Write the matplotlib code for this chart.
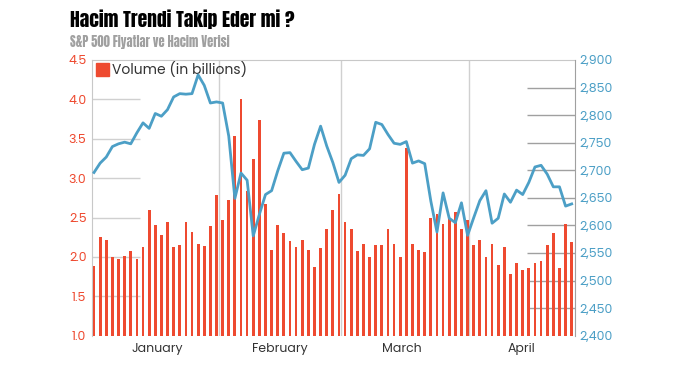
import matplotlib
matplotlib.use("Agg")
import matplotlib.pyplot as plt
from matplotlib.patches import Rectangle
import numpy as np

# daily volume (billions), Jan 2 - Apr 25
volume = [1.89, 2.25, 2.21, 2.00, 1.97, 2.01, 2.08, 1.97, 2.12, 2.59,
          2.41, 2.28, 2.44, 2.12, 2.15, 2.44, 2.32, 2.17, 2.14, 2.39, 2.78,
          2.47, 2.72, 3.54, 4.01, 2.84, 3.24, 3.74, 2.67, 2.09, 2.40,
          2.30, 2.20, 2.13, 2.22, 2.09, 1.87, 2.11, 2.36, 2.59,
          2.80, 2.44, 2.35, 2.08, 2.16, 2.00, 2.15, 2.15, 2.36, 2.17,
          2.00, 3.38, 2.17, 2.09, 2.06, 2.49, 2.54, 2.42, 2.49, 2.57, 2.35,
          2.47, 2.15, 2.22, 2.00, 2.17, 1.90, 2.12, 1.78, 1.92,
          1.83, 1.86, 1.92, 1.95, 2.15, 2.31, 1.86, 2.42, 2.19]

# S&P 500 close
sp500 = [2696, 2713, 2724, 2743, 2748, 2751, 2748, 2768, 2786, 2776,
         2803, 2798, 2810, 2833, 2839, 2838, 2839, 2873, 2854, 2822, 2824,
         2822, 2762, 2649, 2695, 2682, 2581, 2620, 2656, 2663, 2699,
         2731, 2732, 2716, 2701, 2704, 2747, 2780, 2744, 2714,
         2678, 2691, 2721, 2728, 2727, 2739, 2787, 2783, 2765, 2749,
         2747, 2752, 2713, 2717, 2712, 2644, 2588, 2659, 2613, 2605, 2641,
         2582, 2614, 2645, 2663, 2604, 2613, 2657, 2642, 2664,
         2656, 2678, 2706, 2709, 2693, 2670, 2670, 2635, 2639]

months = ["January", "February", "March", "April"]
days_in_month = [21, 19, 21, 18]
month_lines = [20.45, 40.4, 61.3]

red = "#ee4a30"
blue = "#4c9fc6"
plt.rcParams["font.family"] = ["Poppins", "Lato", "DejaVu Sans"]
head_font = ["Anton", "Oswald", "Liberation Sans Narrow", "DejaVu Sans"]

fig = plt.figure(figsize=(6.79, 3.82), dpi=100)
ax = fig.add_axes([92/679, 1 - 335.7/382, 483/679, 275.7/382])

x = np.arange(len(volume))
ax.bar(x, volume, width=0.45, color=red, zorder=3)
ax.set_xlim(-0.33, 78.54)
ax.set_ylim(1.0, 4.5)

for p in month_lines:
    ax.axvline(p, color="#d0d0d0", lw=1, zorder=1)

lticks = np.arange(1.0, 4.51, 0.5)
ax.set_yticks(lticks)
ax.set_yticklabels(["%.1f" % t for t in lticks])
ax.tick_params(axis="y", length=0, colors=red, labelsize=9, pad=4)
ax.hlines(lticks[1:-1], 0, 48/483, transform=ax.get_yaxis_transform(),
          color="#d0d0d0", lw=1, zorder=1)

starts = np.cumsum([0] + days_in_month[:-1])
centers = starts + (np.array(days_in_month) - 1) / 2 + 0.3
ax.set_xticks(centers)
ax.set_xticklabels(months)
ax.tick_params(axis="x", length=0, pad=5, labelcolor="#333333", labelsize=9)

for s in ["left", "top"]:
    ax.spines[s].set_color("#c8c8c8")
ax.spines["bottom"].set_visible(False)
ax.spines["right"].set_visible(False)

ax2 = ax.twinx()
ax2.set_ylim(2400, 2900)
rticks = np.arange(2400, 2901, 50)
ax2.set_yticks(rticks)
ax2.set_yticklabels(["{:,}".format(t) for t in rticks])
ax2.tick_params(axis="y", length=0, colors=blue, labelsize=9, pad=3)
ax.hlines(rticks[1:-1], 1 - 48/483, 1, transform=ax2.get_yaxis_transform(),
          color="#a0a0a0", lw=1, zorder=1)
ax2.plot(x, sp500, color=blue, lw=2, zorder=5)
for s in ["left", "top", "bottom"]:
    ax2.spines[s].set_visible(False)
ax2.spines["right"].set_color("#a0a0a0")

# legend
ax.add_patch(Rectangle((4/483, 0.942), 13/483, 13/275.7, transform=ax.transAxes,
                       color=red, zorder=6, clip_on=False))
ax.text(20/483, 0.965, "Volume (in billions)", transform=ax.transAxes,
        color="#333333", fontsize=10, va="center", ha="left", zorder=6)

fig.text(70/679, 1 - 19/382, "Hacim Trendi Takip Eder mi ?",
         family=head_font, fontsize=14, color="black", va="center", ha="left")
fig.text(70/679, 1 - 42/382, "S&P 500 Fiyatlar ve Hacim Verisi",
         family=head_font, fontsize=9, color="#a0a0a0", va="center", ha="left")

fig.savefig("out.png", dpi=100)
